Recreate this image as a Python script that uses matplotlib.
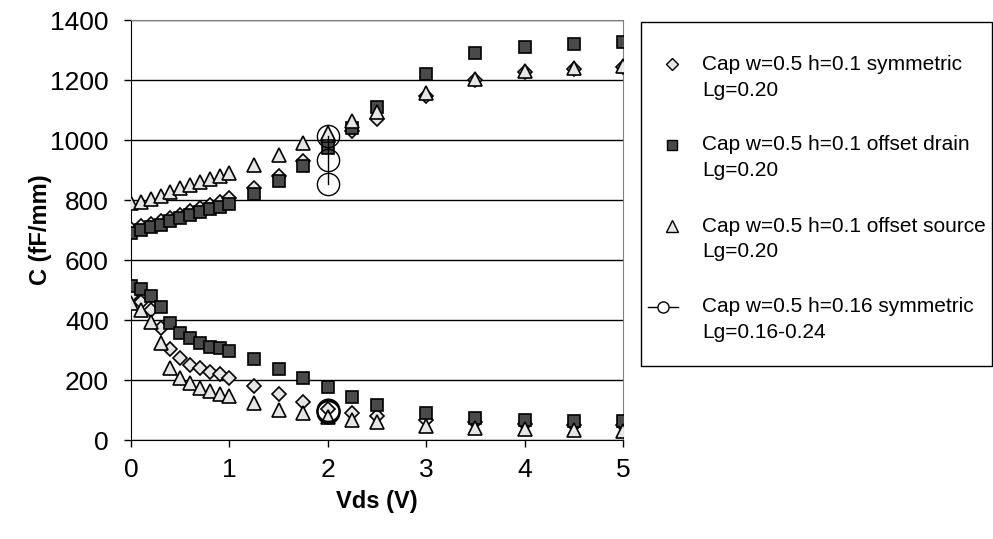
import matplotlib
matplotlib.use("Agg")
from matplotlib import pyplot as plt
from matplotlib.lines import Line2D
from matplotlib.patches import Rectangle

plt.rcParams['font.family'] = ['Liberation Sans', 'DejaVu Sans']

# Vds points (V)
vds = [0.0, 0.1, 0.2, 0.3, 0.4, 0.5, 0.6, 0.7, 0.8, 0.9, 1.0,
       1.25, 1.5, 1.75, 2.0, 2.25, 2.5, 3.0, 3.5, 4.0, 4.5, 5.0]

# Cap w=0.5 h=0.1 symmetric
sym_hi = [705, 712, 720, 730, 740, 751, 762, 773, 784, 795, 807,
          840, 880, 930, 995, 1030, 1071, 1148, 1200, 1228, 1237, 1244]
sym_lo = [480, 461, 433, 372, 303, 272, 250, 239, 228, 219, 206,
          180, 152, 128, 105, 89, 81, 67, 61, 54, 50, 50]

# Cap w=0.5 h=0.1 offset drain
drain_hi = [691, 700, 709, 718, 729, 740, 750, 761, 769, 778, 787,
            821, 863, 915, 975, 1040, 1111, 1220, 1289, 1311, 1321, 1327]
drain_lo = [514, 503, 481, 442, 391, 358, 339, 322, 311, 306, 297,
            269, 237, 208, 176, 144, 117, 89, 72, 67, 64, 64]

# Cap w=0.5 h=0.1 offset source
src_hi = [789, 794, 802, 813, 827, 839, 851, 860, 869, 880, 889,
          917, 950, 989, 1022, 1062, 1093, 1158, 1203, 1231, 1241, 1248]
src_lo = [456, 433, 394, 322, 241, 208, 189, 174, 163, 153, 147,
          122, 100, 89, 78, 67, 59, 48, 39, 36, 33, 31]

# Cap w=0.5 h=0.16 symmetric, Lg=0.16-0.24 (all at Vds=2)
circ_x = [2.0, 2.0, 2.0]
circ_hi = [852, 933, 1015]
circ_lo = [92, 96, 100]

W, H = 993, 539
fig = plt.figure(figsize=(W / 100, H / 100), dpi=100)
ax = fig.add_axes([131/W, 1 - 440/H, 492/W, 420/H])

light = '#e6e6e6'
dark = '#4a4a4a'

ax.plot(vds, sym_hi, 'D', ms=7, mfc=light, mec='k', mew=1.2, ls='none', zorder=3)
ax.plot(vds, sym_lo, 'D', ms=7, mfc=light, mec='k', mew=1.2, ls='none', zorder=3)
ax.plot(vds, drain_hi, 's', ms=9, mfc=dark, mec='k', mew=1.2, ls='none', zorder=4)
ax.plot(vds, drain_lo, 's', ms=9, mfc=dark, mec='k', mew=1.2, ls='none', zorder=4)
ax.plot(vds, src_hi, '^', ms=10, mfc=light, mec='k', mew=1.2, ls='none', zorder=5)
ax.plot(vds, src_lo, '^', ms=10, mfc=light, mec='k', mew=1.2, ls='none', zorder=5)
ax.plot(circ_x, circ_hi, 'o-', color='k', lw=1, ms=16, mfc='none', mec='k', mew=1, zorder=6)
ax.plot(circ_x, circ_lo, 'o-', color='k', lw=1, ms=16, mfc='none', mec='k', mew=1.3, zorder=6)

ax.set_xlim(0, 5)
ax.set_ylim(0, 1400)
ax.set_xticks([0, 1, 2, 3, 4, 5])
ax.set_yticks(range(0, 1401, 200))
ax.tick_params(labelsize=19, direction='out', length=5, width=1)
ax.tick_params(axis='y', pad=11)
ax.tick_params(axis='x', pad=8)
ax.yaxis.grid(True, color='k', lw=1)
ax.set_axisbelow(True)
for s in ['top', 'right']:
    ax.spines[s].set_color('#808080')
ax.spines['left'].set_color('k')
ax.spines['bottom'].set_color('k')

ax.set_xlabel('Vds (V)', fontsize=17, fontweight='bold')
ax.set_ylabel('C (fF/mm)', fontsize=17, fontweight='bold')
ax.xaxis.set_label_coords(0.5, (440 - 490) / 420)
ax.yaxis.set_label_coords((52 - 131) / 492, 0.5)

# legend box drawn in figure pixels
def fx(px):
    return px / W

def fy(py):
    return 1 - py / H

fig.patches.append(Rectangle((fx(641), fy(366)), fx(992) - fx(641), fy(22) - fy(366),
                             transform=fig.transFigure, fill=False, ec='k', lw=1))

labels = [
    ('Cap w=0.5 h=0.1 symmetric', 'Lg=0.20'),
    ('Cap w=0.5 h=0.1 offset drain', 'Lg=0.20'),
    ('Cap w=0.5 h=0.1 offset source', 'Lg=0.20'),
    ('Cap w=0.5 h=0.16 symmetric', 'Lg=0.16-0.24'),
]
styles = [
    dict(marker='D', ms=6.5, mfc=light),
    dict(marker='s', ms=7.5, mfc=dark),
    dict(marker='^', ms=8.5, mfc=light),
]
for i, (l1, l2) in enumerate(labels):
    y1 = 64 + 81 * i
    if i < 3:
        fig.lines.append(Line2D([fx(672)], [fy(y1)], ls='none', mec='k', mew=1,
                                transform=fig.transFigure, **styles[i]))
    else:
        fig.lines.append(Line2D([fx(648), fx(678)], [fy(y1), fy(y1)], color='k', lw=1,
                                transform=fig.transFigure))
        fig.lines.append(Line2D([fx(663)], [fy(y1)], ls='none', marker='o', ms=8,
                                mfc='white', mec='k', mew=1, transform=fig.transFigure))
    fig.text(fx(702), fy(y1), l1, fontsize=15, va='center', ha='left')
    fig.text(fx(702), fy(y1 + 26), l2, fontsize=15, va='center', ha='left')

fig.savefig('out.png', dpi=100)
